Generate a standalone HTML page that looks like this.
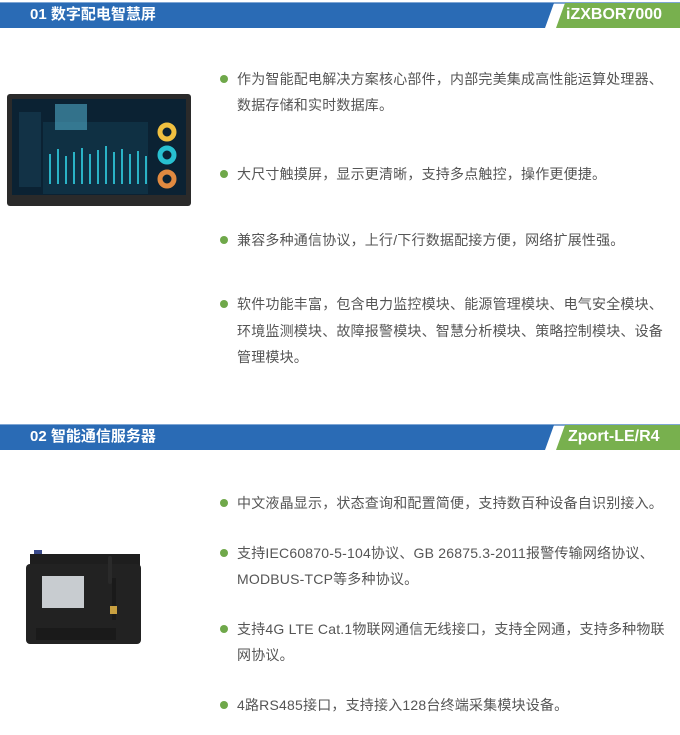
<!DOCTYPE html>
<html><head><meta charset="utf-8"><style>
body{margin:0;width:680px;height:735px;background:#fff;position:relative;overflow:hidden;font-family:"Liberation Sans","Noto Sans CJK SC",sans-serif}
.t{position:absolute;left:237px;font-size:14px;color:#555;white-space:nowrap;line-height:18px;letter-spacing:0.2px}
.d{position:absolute;left:220px;width:8px;height:8px;border-radius:50%;background:#6fa84a}
.bar{position:absolute;left:0;width:680px;height:26px}
.h{position:absolute;color:#fff;font-weight:bold;font-size:15px;line-height:24px}
</style></head><body>
<svg class="bar" style="top:2px" width="680" height="26">
<rect x="0" y="0" width="680" height="2" fill="#7fa6d4"/>
<polygon points="0,1 554,1 545,26 0,26" fill="#2a6bb5"/>
<polygon points="565,1 680,1 680,26 556,26" fill="#78b04e"/>
</svg>
<div class="h" style="left:30px;top:3px">01 数字配电智慧屏</div>
<div class="h" style="left:566px;top:3px;font-size:16px">iZXBOR7000</div>

<svg style="position:absolute;left:7px;top:94px" width="184" height="112">
<rect x="0" y="0" width="184" height="112" rx="3" fill="#2a2a2a"/>
<rect x="5" y="5" width="174" height="96" fill="#0b2233"/>
<rect x="12" y="18" width="22" height="75" fill="#123246"/>
<rect x="36" y="28" width="105" height="72" fill="#0f3043"/>
<rect x="48" y="10" width="32" height="26" fill="#4fa8c7" opacity=".6"/>
<g fill="#2ab3c6"><rect x="42" y="60" width="2" height="30"/><rect x="50" y="55" width="2" height="35"/><rect x="58" y="62" width="2" height="28"/><rect x="66" y="58" width="2" height="32"/><rect x="74" y="54" width="2" height="36"/><rect x="82" y="60" width="2" height="30"/><rect x="90" y="56" width="2" height="34"/><rect x="98" y="52" width="2" height="38"/><rect x="106" y="58" width="2" height="32"/><rect x="114" y="55" width="2" height="35"/><rect x="122" y="60" width="2" height="30"/><rect x="130" y="57" width="2" height="33"/><rect x="138" y="62" width="2" height="28"/></g>
<circle cx="160" cy="38" r="7" fill="none" stroke="#f0c040" stroke-width="5"/>
<circle cx="160" cy="61" r="7" fill="none" stroke="#28c0d0" stroke-width="5"/>
<circle cx="160" cy="85" r="7" fill="none" stroke="#e08a40" stroke-width="5"/>
</svg>

<div class="d" style="top:75px"></div>
<div class="t" style="top:70px">作为智能配电解决方案核心部件，内部完美集成高性能运算处理器、</div>
<div class="t" style="top:96px">数据存储和实时数据库。</div>
<div class="d" style="top:170px"></div>
<div class="t" style="top:165px">大尺寸触摸屏，显示更清晰，支持多点触控，操作更便捷。</div>
<div class="d" style="top:236px"></div>
<div class="t" style="top:231px">兼容多种通信协议，上行/下行数据配接方便，网络扩展性强。</div>
<div class="d" style="top:300px"></div>
<div class="t" style="top:295px">软件功能丰富，包含电力监控模块、能源管理模块、电气安全模块、</div>
<div class="t" style="top:322px">环境监测模块、故障报警模块、智慧分析模块、策略控制模块、设备</div>
<div class="t" style="top:348px">管理模块。</div>

<svg class="bar" style="top:424px" width="680" height="26">
<rect x="0" y="0" width="680" height="2" fill="#7fa6d4"/>
<polygon points="0,1 554,1 545,26 0,26" fill="#2a6bb5"/>
<polygon points="565,1 680,1 680,26 556,26" fill="#78b04e"/>
</svg>
<div class="h" style="left:30px;top:425px">02 智能通信服务器</div>
<div class="h" style="left:568px;top:425px;font-size:16px">Zport-LE/R4</div>

<svg style="position:absolute;left:26px;top:548px" width="125" height="110">
<rect x="8" y="2" width="8" height="6" fill="#3a4a8a"/>
<rect x="4" y="6" width="110" height="14" fill="#1e1e1e"/>
<rect x="0" y="16" width="115" height="80" rx="4" fill="#222"/>
<rect x="16" y="28" width="42" height="32" fill="#c8ccd0"/>
<rect x="86" y="30" width="4" height="42" fill="#1a1a1a"/>
<rect x="82" y="8" width="4" height="28" rx="2" fill="#2a2a2a"/>
<rect x="84" y="58" width="7" height="8" fill="#c8a040"/>
<rect x="10" y="80" width="80" height="12" fill="#1a1a1a"/>
</svg>

<div class="d" style="top:499px"></div>
<div class="t" style="top:494px">中文液晶显示，状态查询和配置简便，支持数百种设备自识别接入。</div>
<div class="d" style="top:549px"></div>
<div class="t" style="top:544px">支持IEC60870-5-104协议、GB 26875.3-2011报警传输网络协议、</div>
<div class="t" style="top:570px">MODBUS-TCP等多种协议。</div>
<div class="d" style="top:625px"></div>
<div class="t" style="top:620px">支持4G LTE Cat.1物联网通信无线接口，支持全网通，支持多种物联</div>
<div class="t" style="top:646px">网协议。</div>
<div class="d" style="top:701px"></div>
<div class="t" style="top:696px">4路RS485接口，支持接入128台终端采集模块设备。</div>
</body></html>
